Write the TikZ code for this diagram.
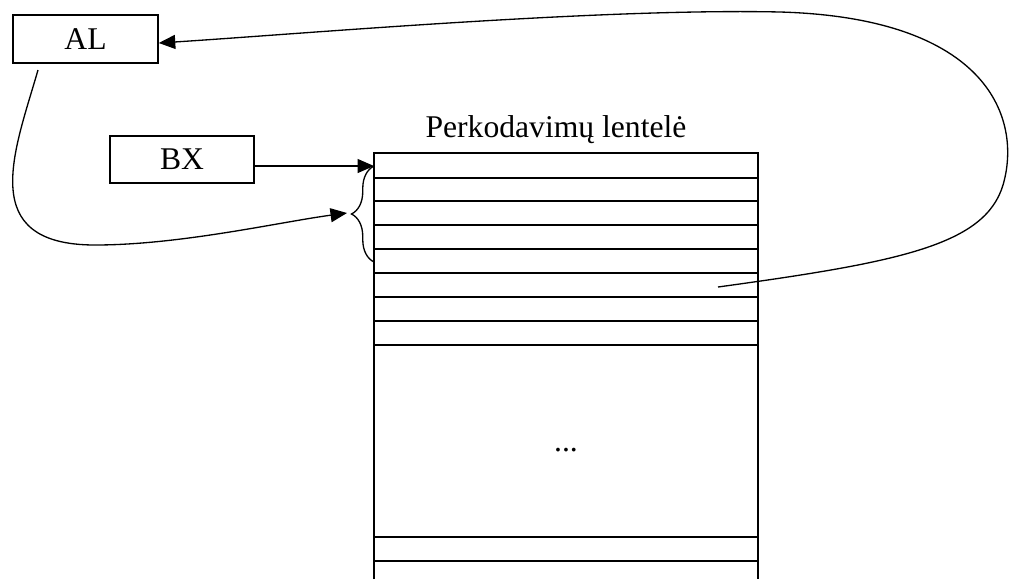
\documentclass[tikz,border=0pt]{standalone}
\usepackage{fontspec}
\setmainfont{Liberation Serif}
\usetikzlibrary{arrows.meta,decorations.pathreplacing}

\begin{document}
\begin{tikzpicture}[
  x=0.02cm, y=-0.02cm,
  font=\fontsize{18}{20}\selectfont,
  >={Triangle[length=3.3mm,width=2.8mm]},
  reg/.style={draw,line width=0.9pt,minimum width=2.9cm,
    minimum height=0.96cm,inner sep=0pt},
  ptr/.style={->,line width=0.75pt},
  row/.style={line width=0.8pt},
  group/.style={line width=0.75pt,decorate,
    decoration={brace,amplitude=0.45cm}}
]
  \useasboundingbox (0,0) rectangle (1010,579);

  % registrai
  \node[reg] (al) at (85.5,39) {AL};
  \node[reg,minimum width=2.88cm,minimum height=0.94cm] (bx) at (182,159.5) {BX};

  % lentele
  \node[anchor=base] (title) at (556,137) {Perkodavimų lentelė};
  \draw[row] (374,579) -- (374,153) -- (758,153) -- (758,579);
  \foreach \y in {178,201,225,249,273,297,321,345,537,561}
    \draw[row] (374,\y) -- (758,\y);
  \node (dots) at (566,450) {...};

  \coordinate (entry) at (374,166);
  \coordinate (cell) at (718,287);
  \coordinate (tip) at (347,213);
  \coordinate (alout) at (38,70);
  \draw[group] (374,262) -- (374,166);

  % rodykles
  \draw[ptr] (bx.east |- entry) -- (entry);
  \draw[ptr] (alout) .. controls (15,150) and (-25,245) .. (95,245)
    .. controls (180,245) and (280,222) .. (tip);
  \draw[ptr] (cell) .. controls (900,262) and (985,245) .. (1003,185)
    .. controls (1022,120) and (990,18) .. (780,12)
    .. controls (600,8) and (300,34) .. (al.east |- 0,43);
\end{tikzpicture}
\end{document}
